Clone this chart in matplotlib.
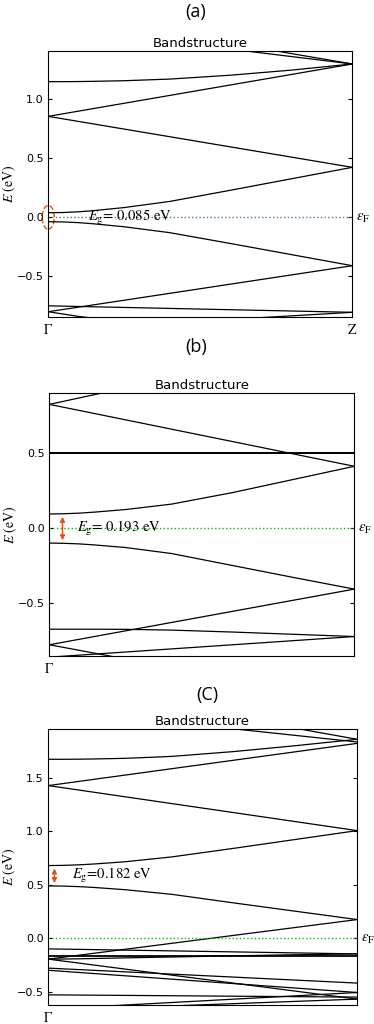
#Imports
import numpy as np
import matplotlib.pyplot as plt
from matplotlib.patches import Ellipse

plt.rcParams['mathtext.fontset'] = 'stix'
plt.rcParams['font.family'] = ['DejaVu Sans']

#straight bands are given by their energy at Gamma (k=0) and Z (k=1)
#curved bands are read at the points of KC
KC = [0, 0.05, 0.1, 0.15, 0.25, 0.4, 0.6, 0.8, 1.0]

#panel (a), eV
straight_a_G = [0.856, 0.856, -0.80, -0.75, 1.614, 1.74]
straight_a_Z = [1.30, 0.424, -0.41, -0.805, 1.30, 1.30]
curved_a = [
    [1.150, 1.150, 1.151, 1.153, 1.158, 1.172, 1.205, 1.248, 1.30],
    [0.039, 0.041, 0.047, 0.057, 0.083, 0.135, 0.230, 0.327, 0.424],
    [-0.037, -0.039, -0.045, -0.055, -0.080, -0.130, -0.222, -0.316, -0.41],
    [-0.80, -0.82, -0.84, -0.855, -0.865, -0.872, -0.865, -0.835, -0.805],
]
gap_a = 0.085

#panel (b), eV
straight_b_G = [0.827, 0.827, -0.78, -0.78, -0.863]
straight_b_Z = [1.267, 0.413, -0.408, -1.16, -0.725]
flat_b = [0.502, 0.502]
curved_b = [
    [0.094, 0.096, 0.100, 0.107, 0.124, 0.160, 0.237, 0.325, 0.413],
    [-0.10, -0.102, -0.106, -0.113, -0.130, -0.170, -0.250, -0.330, -0.408],
    [-0.676, -0.676, -0.676, -0.676, -0.677, -0.682, -0.695, -0.710, -0.725],
]
gap_b = 0.193

#panel (c), eV
straight_c_G = [1.427, 1.427, 2.142, 2.377, -0.10, -0.196, -0.196, -0.28, -0.30, -0.53, -0.664, -0.676]
straight_c_Z = [1.822, 1.006, 1.835, 1.86, -0.147, 0.174, -0.57, -0.42, -0.508, -0.551, -0.508, -0.57]
flat_c = [-0.165]
curved_c = [
    [1.673, 1.673, 1.674, 1.676, 1.682, 1.700, 1.745, 1.800, 1.86],
    [0.679, 0.681, 0.686, 0.694, 0.715, 0.760, 0.840, 0.923, 1.006],
    [0.489, 0.487, 0.482, 0.474, 0.453, 0.410, 0.330, 0.252, 0.174],
    [-0.196, -0.195, -0.193, -0.190, -0.184, -0.176, -0.165, -0.155, -0.147],
]
gap_c = 0.182
vbm_c = 0.489
cbm_c = 0.679

ORANGE = '#d9541e'


def draw_panel(ax, g, z, flat, curved, ylim, yticks, xlabels):
    for e0, e1 in zip(g, z):
        ax.plot([0, 1], [e0, e1], color='black', lw=0.9)
    for e in flat:
        ax.axhline(e, color='black', lw=1.3)
    for b in curved:
        ax.plot(KC, b, color='black', lw=0.9)
    ax.axhline(0, color='#2ca02c', ls=':', lw=1.0)
    ax.set_xlim(0, 1)
    ax.set_ylim(ylim)
    ax.set_yticks(yticks)
    ax.set_xticks([0, 1][:len(xlabels)])
    ax.set_xticklabels(xlabels, fontsize=10)
    ax.tick_params(axis='y', direction='in', right=True, labelsize=8, length=3)
    ax.tick_params(axis='x', length=0, pad=4)
    ax.set_title('Bandstructure', fontsize=9.5, pad=3)
    ax.set_ylabel(r'$E\ (\mathrm{eV})$', fontsize=10)
    ax.yaxis.set_label_coords(-0.098, 0.5)
    ax.text(1.012, 0, r'$\epsilon_{\mathrm{F}}$', transform=ax.get_yaxis_transform(),
            fontsize=10.5, va='center', ha='left')


fig = plt.figure(figsize=(3.74, 10.24), dpi=100)

#(a)
ax1 = fig.add_axes([0.129, 0.6904, 0.813, 0.2598])
draw_panel(ax1, straight_a_G, straight_a_Z, [], curved_a, (-0.845, 1.41),
           [-0.5, 0.0, 0.5, 1.0], [r'$\Gamma$', r'$\mathrm{Z}$'])
ax1.add_patch(Ellipse((0, 0), 0.04, 0.2, fill=False, ec=ORANGE, ls='--', lw=1.0, clip_on=False))
ax1.text(0.13, 0, r'$E_{\mathrm{g}}$= %.3f eV' % gap_a, fontsize=10.5,
         family='STIXGeneral', va='center', ha='left')
fig.text(0.522, 0.988, '(a)', fontsize=13, family='Open Sans', ha='center', va='center')

#(b)
ax2 = fig.add_axes([0.132, 0.3594, 0.8155, 0.2571])
draw_panel(ax2, straight_b_G, straight_b_Z, flat_b, curved_b, (-0.855, 0.905),
           [-0.5, 0.0, 0.5], [r'$\Gamma$'])
ax2.annotate('', xy=(0.043, curved_b[0][0]), xytext=(0.043, curved_b[1][0]),
             arrowprops=dict(arrowstyle='<|-|>', color=ORANGE, lw=1.0, mutation_scale=7))
ax2.text(0.092, 0, r'$E_{\mathrm{g}}$= %.3f eV' % gap_b, fontsize=10.5,
         family='STIXGeneral', va='center', ha='left')
fig.text(0.524, 0.6615, '(b)', fontsize=13, family='Open Sans', ha='center', va='center')

#(c)
ax3 = fig.add_axes([0.129, 0.01855, 0.826, 0.2692])
draw_panel(ax3, straight_c_G, straight_c_Z, flat_c, curved_c, (-0.625, 1.953),
           [-0.5, 0.0, 0.5, 1.0, 1.5], [r'$\Gamma$'])
ax3.annotate('', xy=(0.02, cbm_c), xytext=(0.02, vbm_c),
             arrowprops=dict(arrowstyle='<|-|>', color=ORANGE, lw=1.0, mutation_scale=7))
ax3.text(0.076, 0.583, r'$E_{\mathrm{g}}$=%.3f eV' % gap_c, fontsize=10.5,
         family='STIXGeneral', va='center', ha='left')
fig.text(0.553, 0.3213, '(C)', fontsize=13, family='Open Sans', ha='center', va='center')

fig.savefig('out.png', dpi=100)
